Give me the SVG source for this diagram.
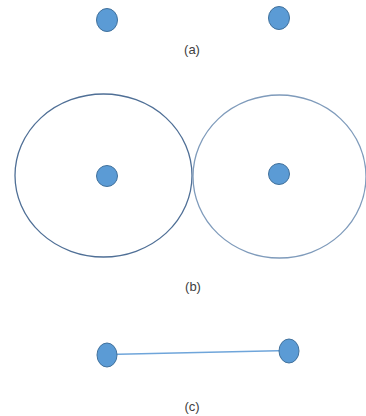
<svg xmlns="http://www.w3.org/2000/svg" width="366" height="416" viewBox="0 0 366 416">
<style>
.dot{fill:#5B9BD5;stroke:#41719C;stroke-width:1}
.ring{fill:none;stroke-width:1.3}
.lbl{font-family:"Liberation Sans",Arial,sans-serif;font-size:13px;fill:#404040;text-anchor:middle}
</style>
<rect width="366" height="416" fill="#fff"/>
<g id="a">
<ellipse id="a1" class="dot" cx="107" cy="20" rx="10.5" ry="11.5"/>
<ellipse id="a2" class="dot" cx="279" cy="18" rx="10.5" ry="11.5"/>
<text class="lbl" x="192" y="54">(a)</text>
</g>
<g id="b">
<g id="b1">
<ellipse class="ring" stroke="#4F6F96" cx="103.5" cy="175.5" rx="88.5" ry="81.5"/>
<circle class="dot" cx="107" cy="176" r="10.5"/>
</g>
<g id="b2">
<ellipse class="ring" stroke="#7F9BBB" cx="279.5" cy="176.5" rx="86.5" ry="81.5"/>
<circle class="dot" cx="279" cy="174" r="10.5"/>
</g>
<text class="lbl" x="193" y="291">(b)</text>
</g>
<g id="connectors">
<line x1="107" y1="354.5" x2="289" y2="350.5" stroke="#6FA5DA" stroke-width="1.5"/>
</g>
<g id="c">
<ellipse id="c1" class="dot" cx="107" cy="355" rx="10" ry="12"/>
<ellipse id="c2" class="dot" cx="289" cy="351" rx="10" ry="12"/>
<text class="lbl" x="192" y="411">(c)</text>
</g>
</svg>
